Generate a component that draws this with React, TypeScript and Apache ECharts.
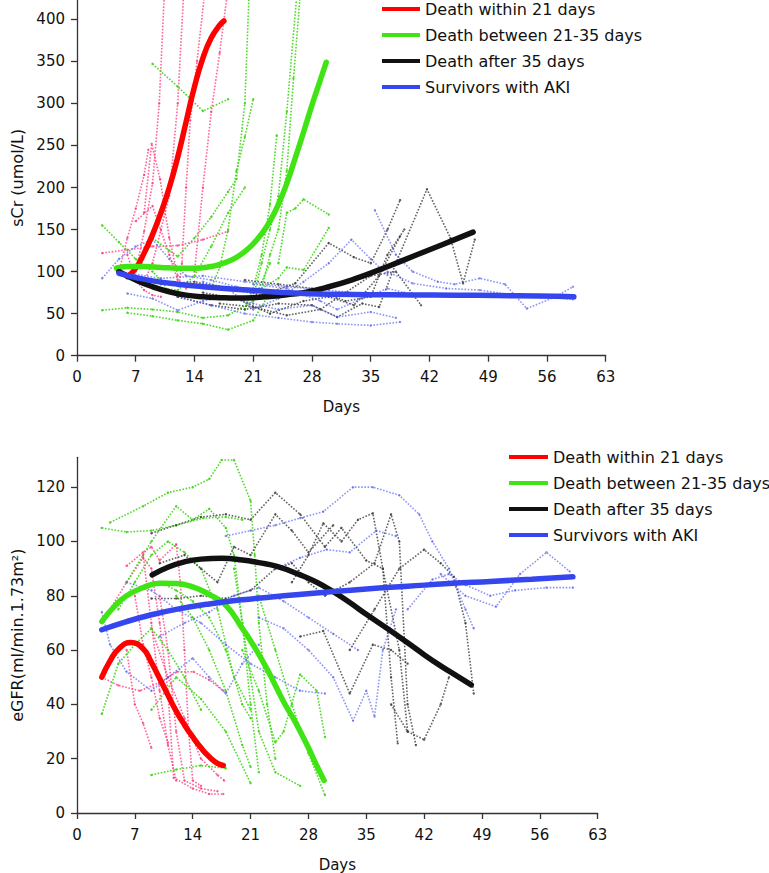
import React, { useEffect, useRef } from "react";
import * as echarts from "echarts";

type Pt = [number, number];

const GROUPS = [
  "Death within 21 days",
  "Death between 21-35 days",
  "Death after 35 days",
  "Survivors with AKI",
];
const FIT_COLORS = ["#ff0000", "#40e414", "#111111", "#3546ee"];
const INDIV_COLORS = [
  "rgba(255,50,120,0.75)",
  "rgba(70,215,30,0.95)",
  "rgba(60,60,60,0.8)",
  "rgba(80,90,240,0.65)",
];

const DAY_TICKS = [0, 7, 14, 21, 28, 35, 42, 49, 56, 63];
const SCR_TICKS = [0, 50, 100, 150, 200, 250, 300, 350, 400];
const EGFR_TICKS = [0, 20, 40, 60, 80, 100, 120];

// ---------- sCr fitted curves ----------
const scrFitRed: Pt[] = [[6, 94], [7, 104], [8, 122], [9, 144], [10, 170], [11, 200], [12, 236], [13, 278], [14, 320], [15, 354], [16, 378], [17, 393], [17.5, 398]];
const scrFitGreen: Pt[] = [[4.7, 104], [6, 106], [8, 106], [10, 105], [12, 104], [14, 104], [16, 106], [17, 108.5], [18, 112], [19, 117], [20, 124], [21, 133], [22, 145], [23, 160], [24, 180], [25, 205], [26, 235], [27, 266], [28, 298], [29, 328], [29.7, 349]];
const scrFitBlack: Pt[] = [[5, 100], [7, 90], [9, 82], [11, 76], [13, 72], [15, 70], [17, 69], [19, 68.5], [21, 69], [23, 70.5], [25, 72.5], [27, 75], [30, 82], [33, 91], [36, 102], [39, 114], [42, 126], [45, 138], [47.2, 147]];
const scrFitBlue: Pt[] = [[5, 98], [7, 93], [9, 89], [12, 85], [15, 82], [18, 79.5], [21, 77.5], [24, 75.5], [27, 74], [31, 73], [35, 72.5], [40, 72.3], [45, 72], [50, 71.5], [55, 71], [59.2, 70]];

// ---------- sCr individual patients ----------
const scrRedPatients: Pt[][] = [
  [[3, 122], [6, 126], [9, 130], [12, 131], [15, 138], [18, 148]],
  [[7, 100], [8, 148], [9, 205], [9.8, 300], [10.4, 430]],
  [[8, 88], [9, 110], [10, 150], [11, 190], [12, 300], [12.7, 430]],
  [[12, 70], [12.5, 110], [13, 200], [13.5, 280], [14.3, 350], [15.2, 430]],
  [[14, 100], [15, 200], [16, 290], [17, 360], [17.9, 430]],
  [[8, 170], [8.9, 252], [9.9, 210], [11, 140], [12, 95]],
  [[6, 120], [7, 90], [8, 78], [9, 72], [10, 70]],
  [[7, 160], [9, 178], [11, 120], [12, 90], [13, 80]],
  [[5, 100], [6, 140], [7, 175], [8, 215], [8.5, 245]],
];
const scrGreenPatients: Pt[][] = [
  [[3, 155], [5, 135], [7, 115], [9, 100], [10, 90], [11, 75]],
  [[9, 140], [11, 125], [12, 118], [14, 140], [16, 165], [18, 195], [19, 210], [20, 300], [20.5, 430]],
  [[21, 70], [22, 110], [23, 150], [24, 190], [25, 290], [26.2, 430]],
  [[22, 80], [23, 120], [24, 150], [25, 220], [25.8, 330], [26.6, 430]],
  [[9, 347], [12, 320], [15, 291], [18, 305]],
  [[16, 80], [17, 105], [18, 150], [19, 220], [20, 260], [21, 305]],
  [[20, 55], [21, 80], [22, 120], [23, 180], [23.8, 262]],
  [[24, 110], [25, 170], [26, 175], [27, 186], [30, 168]],
  [[22, 80], [24, 92], [25, 105], [27, 102], [30, 152]],
  [[3, 54], [6, 57], [9, 55], [12, 52], [15, 45], [18, 48], [21, 65], [23, 110]],
  [[6, 51], [9, 47], [12, 42], [15, 38], [18, 31], [21, 42], [23, 75]],
  [[8, 90], [10, 80], [12, 78], [14, 95], [16, 130], [18, 170], [20, 200]],
];
const scrBlackPatients: Pt[][] = [
  [[10, 85], [14, 88], [18, 80], [22, 72], [26, 86], [30, 134], [33, 117], [35, 110], [37, 150], [38.5, 185]],
  [[12, 70], [16, 60], [20, 55], [24, 62], [28, 60], [31, 46], [34, 62], [36, 58], [38, 110], [41.7, 198], [44.5, 140], [46, 86], [47.4, 138]],
  [[15, 75], [19, 68], [23, 50], [27, 65], [30, 70], [33, 60], [36, 95], [38.5, 142]],
  [[20, 90], [24, 85], [28, 80], [32, 65], [35, 70], [37, 120], [39, 150]],
  [[17, 62], [21, 58], [25, 48], [29, 55], [32, 75], [35, 95], [38, 100], [41, 60]],
];
const scrBluePatients: Pt[][] = [
  [[3, 92], [5, 115], [7, 130], [9, 138], [11, 115], [13, 95], [16, 90], [19, 82], [22, 76]],
  [[6, 74], [9, 68], [12, 54], [15, 65], [18, 70], [21, 62], [24, 55], [28, 60], [31, 46], [35, 52], [38, 45]],
  [[15, 88], [18, 80], [21, 55], [24, 68], [27, 88], [30, 110], [32.7, 138], [35, 115], [37, 96]],
  [[35.5, 173], [38, 120], [40, 100], [43, 88], [45, 85], [48, 92], [51, 85], [53.6, 56], [57, 70], [59.1, 82]],
  [[37, 100], [40, 86], [44, 80], [48, 78], [52, 72], [56, 70], [59.1, 67]],
  [[12, 70], [16, 60], [20, 50], [24, 45], [28, 40], [31, 38], [35, 36], [38.5, 40]],
  [[21, 85], [25, 80], [29, 65], [31, 55], [34, 68], [37, 80], [39, 75]],
  [[5, 100], [10, 92], [15, 95], [20, 88], [25, 82], [30, 78], [35, 72]],
];

// ---------- eGFR fitted curves ----------
const egfrFitRed: Pt[] = [[3, 50], [4, 56], [5, 60.3], [6.5, 62.8], [8, 60.5], [9, 55.5], [10, 49.5], [11, 43.5], [12, 37.5], [13, 32.5], [14, 28], [15, 24], [16, 20.7], [17, 18.3], [17.7, 17.5]];
const egfrFitGreen: Pt[] = [[3, 70.5], [4.5, 76], [6, 80], [8, 83], [10, 84.6], [12, 84.5], [14, 83.3], [16, 80.5], [18, 76.5], [20, 68], [21.4, 61.5], [23, 53], [25, 41], [26.5, 33], [28, 24], [29, 17.5], [29.9, 12]];
const egfrFitBlack: Pt[] = [[9.1, 87.7], [11, 90.5], [13, 92.5], [15, 93.5], [17.5, 93.8], [20, 93.2], [22, 92.2], [24.2, 90.8], [27, 87.7], [29, 85], [31, 81.5], [33, 77.5], [35, 73.2], [37.8, 67.4], [40, 62.7], [42, 58.3], [44, 54.2], [46, 50.4], [47.7, 47.2]];
const egfrFitBlue: Pt[] = [[3, 67.5], [6, 70.5], [9, 73], [12, 75], [16, 77], [20, 78.5], [25, 80], [30, 81.3], [35, 82.5], [40, 83.5], [45, 84.5], [50, 85.3], [55, 86.1], [60, 87]];

// ---------- eGFR individual patients ----------
const egfrRedPatients: Pt[][] = [
  [[6, 91], [8, 96], [9, 98], [10, 93], [12, 99], [12.5, 85], [13, 60], [13.5, 30], [14, 12], [15, 10]],
  [[4, 75], [6, 85], [8, 94], [9, 90], [10, 70], [11, 45], [11.7, 13], [14, 9], [16, 7], [17.7, 7]],
  [[3, 50], [5, 47], [7.6, 45], [10, 48], [12.1, 52], [14.1, 52], [16, 49], [17.7, 45]],
  [[8, 95], [9, 70], [10, 45], [11, 25], [12, 12]],
  [[6, 60], [7, 40], [8, 33], [9, 24]],
  [[9, 68], [11, 50], [13, 35], [15, 20], [17, 14], [17.8, 12]],
  [[10, 80], [11, 60], [12, 30], [13, 12], [15, 9], [17, 8]],
  [[7, 80], [8, 62], [9, 50], [10, 35], [11, 26]],
];
const egfrGreenPatients: Pt[][] = [
  [[3, 105], [6, 103.5], [9, 104], [12, 106], [15.3, 108.6], [18, 109], [20, 108]],
  [[4, 107], [8, 113], [11, 118], [14, 120], [16, 123], [17.5, 130], [19, 130], [21, 115], [21.5, 95], [22, 70], [23, 40], [24, 20]],
  [[6, 85], [9, 100], [12, 113], [14, 108], [16, 112], [18, 105], [19, 95], [20, 70], [21, 40], [22, 15]],
  [[3, 36.5], [5, 55], [7, 62], [9, 68], [11, 60], [13, 50], [15, 38]],
  [[9, 14], [12, 16], [15, 17.5], [18, 16.5]],
  [[9, 38], [12, 50], [15, 42], [18, 30], [21, 11]],
  [[20, 60], [22, 45], [24, 26], [25, 30], [27, 51], [29, 45], [30, 28]],
  [[19, 90], [20, 70], [21, 50], [22, 30], [24, 15], [27, 10]],
  [[22, 80], [24, 60], [26, 40], [28, 22], [30, 6.6]],
  [[10, 85], [12, 82], [14, 78], [16, 72], [18, 60], [20, 40], [21, 35]],
  [[5, 75], [7, 85], [9, 95], [11, 100], [13, 96], [15, 90], [17, 75], [19, 50], [21, 38]],
  [[12, 80], [14, 72], [16, 60], [18, 45], [20, 25], [21, 17]],
];
const egfrBlackPatients: Pt[][] = [
  [[9, 103], [12, 106], [15, 109], [18, 110], [21, 108], [24, 118], [27, 110], [30, 98], [32, 105], [35, 93], [37, 90], [39, 60], [40, 30]],
  [[9, 79], [12, 79], [15, 80], [18, 79], [21, 82], [24, 90], [26, 92], [28, 85], [30, 80], [33, 85], [36, 92], [38, 110], [39, 100], [40, 40], [41, 25]],
  [[26, 85], [28, 95], [29.8, 106.7], [32, 100], [34, 108], [35.8, 110.4], [37, 90], [38, 50], [38.8, 25.7]],
  [[38, 40], [40, 30], [42, 27], [44, 40], [45, 50]],
  [[33, 60], [36, 75], [39, 90], [42, 97], [44, 92], [45.6, 87], [47, 70], [48, 44]],
  [[27, 65], [29.8, 67], [33, 44], [35.8, 62], [38, 60], [40, 55]],
  [[10, 92], [13, 95], [15, 90], [17, 85], [19, 98], [21, 95], [24, 110], [26, 104], [28, 96], [31, 106]],
];
const egfrBluePatients: Pt[][] = [
  [[18, 102], [21, 104], [24, 106], [27, 108.6], [29.8, 111], [33.4, 120], [35.8, 120], [39, 117], [41.4, 110], [43, 100], [45, 90], [47, 75], [48, 68]],
  [[24, 90], [27, 94], [30.2, 97], [33, 96], [36.2, 104], [38.6, 102]],
  [[44, 88], [47, 80], [50.7, 76], [53.6, 88], [56.8, 96], [59.6, 89]],
  [[40, 75], [43, 86], [45, 88], [47, 84], [50, 80], [53, 82], [56.8, 83], [60, 83]],
  [[3, 74], [4, 62], [6, 52], [9, 45], [11, 50], [14, 57], [16, 50], [18, 44], [20, 55], [22, 62]],
  [[22, 72], [25, 68], [28, 60], [31, 50], [33.4, 34], [35, 45], [36, 35.5], [37, 60], [38.6, 75]],
  [[6, 85], [9, 82], [12, 75], [15, 70], [18, 62], [21, 55], [24, 50], [27, 45], [30, 44]],
  [[10, 65], [13, 70], [16, 74], [19, 80], [22, 83], [25, 78], [28, 72], [31, 66], [34, 60]],
];

const FONT = "DejaVu Sans";

function indivSeries(patients: Pt[][], gi: number, axis: number) {
  return patients.map((data, i) => ({
    type: "line",
    name: GROUPS[gi] + " patient " + (i + 1),
    xAxisIndex: axis,
    yAxisIndex: axis,
    data,
    silent: true,
    symbol: "circle",
    symbolSize: 2.4,
    itemStyle: { color: INDIV_COLORS[gi] },
    lineStyle: { color: INDIV_COLORS[gi], width: 1.6, type: [1.6, 1.6] },
    z: 2,
  }));
}

function fitSeries(data: Pt[], gi: number, axis: number) {
  return {
    type: "line",
    name: GROUPS[gi],
    xAxisIndex: axis,
    yAxisIndex: axis,
    data,
    smooth: 0.5,
    symbol: "none",
    silent: true,
    itemStyle: { color: FIT_COLORS[gi] },
    lineStyle: { color: FIT_COLORS[gi], width: 5.5, cap: "round", join: "round" },
    z: 5 + gi,
  };
}

const axisLineStyle = { lineStyle: { color: "#333", width: 1.3 } };

function xAxis(grid: number) {
  return {
    type: "value",
    gridIndex: grid,
    min: 0,
    max: 63,
    interval: 7,
    name: "Days",
    nameLocation: "middle",
    nameGap: 44,
    nameTextStyle: { fontFamily: FONT, fontSize: 15, color: "#111" },
    axisLine: { show: true, ...axisLineStyle },
    axisTick: { show: true, length: 6, customValues: DAY_TICKS, lineStyle: { color: "#333", width: 1.3 } },
    axisLabel: { customValues: DAY_TICKS, margin: 14, fontFamily: FONT, fontSize: 15, color: "#111" },
    splitLine: { show: false },
  };
}

function yAxis(grid: number, max: number, interval: number, ticks: number[], name: string) {
  return {
    type: "value",
    gridIndex: grid,
    min: 0,
    max,
    interval,
    name,
    nameLocation: "middle",
    nameRotate: 90,
    nameGap: 50,
    nameTextStyle: { fontFamily: FONT, fontSize: 16, color: "#111" },
    axisLine: { show: true, ...axisLineStyle },
    axisTick: { show: true, length: 6, customValues: ticks, lineStyle: { color: "#333", width: 1.3 } },
    axisLabel: { customValues: ticks, margin: 12, fontFamily: FONT, fontSize: 15, color: "#111" },
    splitLine: { show: false },
  };
}

function legend(left: number, top: number, itemWidth: number) {
  return {
    data: GROUPS,
    orient: "vertical",
    left,
    top,
    padding: 0,
    itemWidth,
    itemHeight: 4,
    itemGap: 8,
    icon: "rect",
    selectedMode: false,
    textStyle: { fontFamily: FONT, fontSize: 16, color: "#111", lineHeight: 18 },
  };
}

export default function App() {
  const ref = useRef<HTMLDivElement>(null);
  useEffect(() => {
    if (!ref.current) return;
    const chart = echarts.init(ref.current, null, { renderer: "svg" });
    const series: any[] = [
      ...indivSeries(scrRedPatients, 0, 0),
      ...indivSeries(scrGreenPatients, 1, 0),
      ...indivSeries(scrBlackPatients, 2, 0),
      ...indivSeries(scrBluePatients, 3, 0),
      ...indivSeries(egfrRedPatients, 0, 1),
      ...indivSeries(egfrGreenPatients, 1, 1),
      ...indivSeries(egfrBlackPatients, 2, 1),
      ...indivSeries(egfrBluePatients, 3, 1),
      fitSeries(scrFitRed, 0, 0),
      fitSeries(scrFitGreen, 1, 0),
      fitSeries(scrFitBlack, 2, 0),
      fitSeries(scrFitBlue, 3, 0),
      fitSeries(egfrFitRed, 0, 1),
      fitSeries(egfrFitGreen, 1, 1),
      fitSeries(egfrFitBlack, 2, 1),
      fitSeries(egfrFitBlue, 3, 1),
    ];
    chart.setOption({
      animation: false,
      backgroundColor: "#ffffff",
      textStyle: { fontFamily: FONT },
      grid: [
        { left: 77, top: 0, width: 528.7, height: 355.7, containLabel: false },
        { left: 77, top: 457.3, width: 520.7, height: 355.7, containLabel: false },
      ],
      xAxis: [xAxis(0), xAxis(1)],
      yAxis: [
        yAxis(0, 423, 50, SCR_TICKS, "sCr (umol/L)"),
        yAxis(1, 131, 20, EGFR_TICKS, "eGFR(ml/min.1.73m²)"),
      ],
      legend: [legend(382, 0, 38), legend(509, 448, 39)],
      series,
    });
    return () => chart.dispose();
  }, []);
  return (
    <div
      ref={ref}
      style={{ position: "absolute", left: 0, top: 0, width: 769, height: 873 }}
    />
  );
}
